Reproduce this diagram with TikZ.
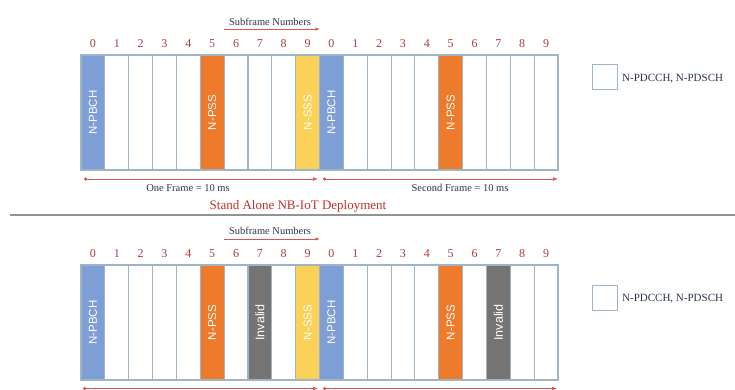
\documentclass[tikz,border=0pt]{standalone}
\usepackage{fontspec}
\setmainfont{Liberation Serif}
\setsansfont{Liberation Sans}
\usetikzlibrary{arrows.meta}
\definecolor{pbch}{HTML}{7E9ED6}
\definecolor{pss}{HTML}{EE7B2C}
\definecolor{sss}{HTML}{FCD158}
\definecolor{inval}{HTML}{747474}
\definecolor{edgec}{HTML}{9FB4C4}
\definecolor{numc}{HTML}{B03C40}
\definecolor{navy}{HTML}{2B3550}
\definecolor{redline}{HTML}{D9534F}
\definecolor{titlec}{HTML}{C4302B}
\begin{document}
\begin{tikzpicture}[x=1pt,y=-1pt,
  col/.style={draw=edgec, line width=1.1pt, minimum width=23.85pt, minimum height=115pt, inner sep=0pt, outer sep=0pt, anchor=north west},
  chan/.style={rotate=90, text=white, font=\sffamily\fontsize{11.5}{11.5}\selectfont},
  numlab/.style={text=numc, font=\fontsize{12}{13}\selectfont},
  smalllab/.style={text=navy, font=\fontsize{10.5}{12}\selectfont, anchor=base},
  frarrow/.style={draw=redline, line width=1pt, {Circle[length=3.2pt]}-{Latex[length=5pt,width=3.8pt]}},
  sfarrow/.style={draw=redline, line width=0.9pt, -{Latex[length=4.5pt,width=3.5pt]}},
  legbox/.style={draw=edgec, line width=1.1pt, minimum width=25pt, minimum height=25pt, inner sep=0pt, anchor=north west},
  legtext/.style={text=navy, font=\fontsize{11}{12}\selectfont, anchor=base west, inner sep=0pt}
]
\useasboundingbox (0,0) rectangle (735,389);
\fill[white] (0,0) rectangle (735,389);

% ---------- top panel ----------
\foreach \c [count=\i from 0] in {pbch,white,white,white,white,pss,white,white,white,sss,pbch,white,white,white,white,pss,white,white,white,white}{
  \node[col, fill=\c] (t\i) at ({81+23.85*\i},55) {};
}
\foreach \d [count=\i from 0] in {0,1,2,3,4,5,6,7,8,9,0,1,2,3,4,5,6,7,8,9}{
  \node[numlab] (tn\i) at ({81+23.85*\i+11.9},44) {\d};
}
\node[chan] at (t0.center) {N-PBCH};
\node[chan] at (t5.center) {N-PSS};
\node[chan] at (t9.center) {N-SSS};
\node[chan] at (t10.center) {N-PBCH};
\node[chan] at (t15.center) {N-PSS};

\node[smalllab] (tsf) at (270,25) {Subframe Numbers};
\coordinate (tsfa) at (224,29);
\coordinate (tsfb) at (320,29);
\draw[sfarrow] (tsfa) -- (tsfb);

\coordinate (tf1a) at (84,179);
\coordinate (tf1b) at (318,179);
\coordinate (tf2a) at (323,179);
\coordinate (tf2b) at (558,179);
\draw[frarrow] (tf1a) -- (tf1b);
\draw[frarrow] (tf2a) -- (tf2b);
\node[smalllab] (tof) at (188,191) {One Frame = 10 ms};
\node[smalllab] (tsf2) at (460,191.5) {Second Frame = 10 ms};

\node[text=titlec, font=\fontsize{13}{15}\selectfont, anchor=base] (title) at (298,209) {Stand Alone NB-IoT Deployment};

\node[legbox] (tleg) at (592,64) {};
\node[legtext] (tlegt) at (622,81.5) {N-PDCCH, N-PDSCH};

% separator
\coordinate (sepa) at (10,215);
\coordinate (sepb) at (735,215);
\draw[draw=gray!85, line width=1.6pt] (sepa) -- (sepb);

% ---------- bottom panel ----------
\foreach \c [count=\i from 0] in {pbch,white,white,white,white,pss,white,inval,white,sss,pbch,white,white,white,white,pss,white,inval,white,white}{
  \node[col, fill=\c] (b\i) at ({81+23.85*\i},265) {};
}
\foreach \d [count=\i from 0] in {0,1,2,3,4,5,6,7,8,9,0,1,2,3,4,5,6,7,8,9}{
  \node[numlab] (bn\i) at ({81+23.85*\i+11.9},254) {\d};
}
\node[chan] at (b0.center) {N-PBCH};
\node[chan] at (b5.center) {N-PSS};
\node[chan, font=\sffamily\fontsize{12.5}{12.5}\selectfont] at (b7.center) {Invalid};
\node[chan] at (b9.center) {N-SSS};
\node[chan] at (b10.center) {N-PBCH};
\node[chan] at (b15.center) {N-PSS};
\node[chan, font=\sffamily\fontsize{12.5}{12.5}\selectfont] at (b17.center) {Invalid};

\node[smalllab] (bsf) at (270,234.5) {Subframe Numbers};
\coordinate (bsfa) at (224,239);
\coordinate (bsfb) at (320,239);
\draw[sfarrow] (bsfa) -- (bsfb);

\coordinate (bf1a) at (83,388.5);
\coordinate (bf1b) at (318,388.5);
\coordinate (bf2a) at (323,388.5);
\coordinate (bf2b) at (557,388.5);
\draw[frarrow] (bf1a) -- (bf1b);
\draw[frarrow] (bf2a) -- (bf2b);

\node[legbox] (bleg) at (592,285) {};
\node[legtext] (blegt) at (622,301) {N-PDCCH, N-PDSCH};
\end{tikzpicture}
\end{document}
